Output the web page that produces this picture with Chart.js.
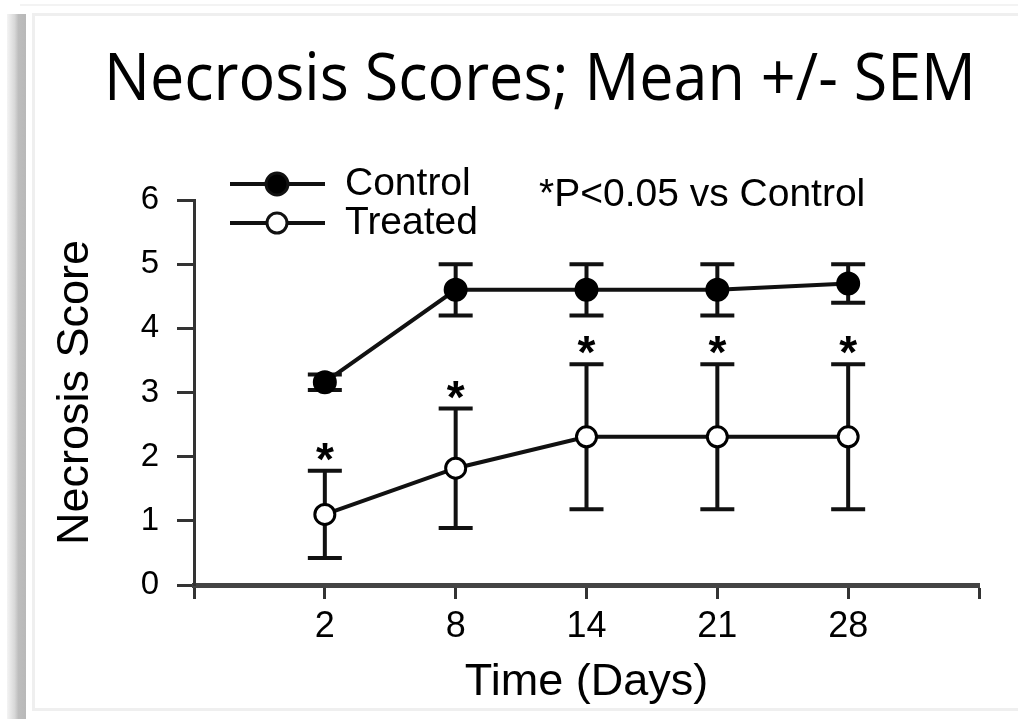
<!DOCTYPE html>
<html>
<head>
<meta charset="utf-8">
<script src="https://cdn.jsdelivr.net/npm/chart.js@4.4.1/dist/chart.umd.min.js"></script>
<style>
  html, body { margin: 0; padding: 0; background: #fff; }
  body { width: 1018px; height: 719px; position: relative; overflow: hidden; }
  .shadow { position: absolute; left: 7px; top: 14px; width: 19px; bottom: 0;
            background: linear-gradient(to right, #f4f4f4, #d8d8d8 40%, #bdbdbd 60%, #b8b8b8); }
  .topline { position: absolute; left: 20px; right: 0; top: 4px; height: 2px; background: #f3f3f3; }
  .frame { position: absolute; left: 32px; top: 13px; right: -4px; height: 698px;
           border: 3px solid #efefef; box-sizing: border-box; }
  canvas { position: absolute; left: 0; top: 0; }
</style>
</head>
<body>
<div class="shadow"></div>
<div class="topline"></div>
<div class="frame"></div>
<canvas id="necrosisChart" width="1018" height="719"></canvas>
<script>
// NECROSIS SCORES

const days = ['2', '8', '14', '21', '28'];
const controlMean = [3.16, 4.6, 4.6, 4.6, 4.7];
const controlSem = [0.12, 0.4, 0.4, 0.4, 0.3];
const treatedMean = [1.1, 1.82, 2.31, 2.31, 2.31];
const treatedSem = [0.68, 0.93, 1.13, 1.13, 1.13];
const significant = [true, true, true, true, true];

const chartTitle = 'Necrosis Scores; Mean +/- SEM';
const noteText = '*P<0.05 vs Control';
const sansFont = "'Liberation Sans', Arial, sans-serif";

const toPoints = (arr) => arr.map((v, i) => ({ x: i + 1, y: v }));

// error bars under the markers
const errorBars = {
    id: 'errorBars',
    beforeDatasetsDraw(chart) {
        const { ctx, scales: { x, y } } = chart;
        const sems = [controlSem, treatedSem];
        const means = [controlMean, treatedMean];
        ctx.save();
        ctx.strokeStyle = '#111';
        ctx.lineWidth = 4;
        for (let s = 0; s < 2; s++) {
            means[s].forEach((m, i) => {
                const px = x.getPixelForValue(i + 1);
                const top = y.getPixelForValue(m + sems[s][i]);
                const bot = y.getPixelForValue(m - sems[s][i]);
                ctx.beginPath();
                ctx.moveTo(px, top); ctx.lineTo(px, bot);
                ctx.moveTo(px - 17, top); ctx.lineTo(px + 17, top);
                ctx.moveTo(px - 17, bot); ctx.lineTo(px + 17, bot);
                ctx.stroke();
            });
        }
        ctx.restore();
    }
};

// stars, legend, note and title
const extras = {
    id: 'extras',
    afterDatasetsDraw(chart) {
        const { ctx, scales: { x, y } } = chart;
        ctx.save();
        ctx.fillStyle = '#000';

        ctx.font = 'bold 46px ' + sansFont;
        ctx.textAlign = 'center';
        ctx.textBaseline = 'alphabetic';
        treatedMean.forEach((m, i) => {
            if (!significant[i]) return;
            const px = x.getPixelForValue(i + 1);
            const top = y.getPixelForValue(m + treatedSem[i]);
            ctx.fillText('*', px, top + 4);
        });

        // legend
        const rows = [
            { label: 'Control', y: 184, fill: '#000', r: 11 },
            { label: 'Treated', y: 223, fill: '#fff', r: 10 }
        ];
        rows.forEach(row => {
            ctx.strokeStyle = '#111';
            ctx.lineWidth = 4;
            ctx.beginPath();
            ctx.moveTo(230, row.y); ctx.lineTo(325, row.y);
            ctx.stroke();
            ctx.beginPath();
            ctx.arc(277, row.y, row.r, 0, Math.PI * 2);
            ctx.fillStyle = row.fill;
            ctx.fill();
            ctx.lineWidth = 3;
            ctx.stroke();
            ctx.fillStyle = '#000';
            ctx.font = '39px ' + sansFont;
            ctx.textAlign = 'left';
            ctx.textBaseline = 'middle';
            ctx.fillText(row.label, 345, row.y);
        });

        ctx.font = '39px ' + sansFont;
        ctx.textAlign = 'left';
        ctx.textBaseline = 'middle';
        ctx.fillText(noteText, 539, 195);

        ctx.font = "66px 'Open Sans', 'Noto Sans', sans-serif";
        ctx.textBaseline = 'alphabetic';
        ctx.fillStyle = '#000';
        ctx.fillText(chartTitle, 104, 100, 872);
        ctx.restore();
    }
};

const ctx = document.getElementById('necrosisChart');

new Chart(ctx, {
    type: 'line',
    data: {
        datasets: [{
            label: 'Control',
            data: toPoints(controlMean),
            borderColor: '#111',
            borderWidth: 4,
            pointRadius: 11,
            pointBackgroundColor: '#000',
            pointBorderColor: '#000',
            pointBorderWidth: 2,
            tension: 0
        }, {
            label: 'Treated',
            data: toPoints(treatedMean),
            borderColor: '#111',
            borderWidth: 4,
            pointRadius: 10,
            pointBackgroundColor: '#fff',
            pointBorderColor: '#000',
            pointBorderWidth: 3,
            tension: 0
        }]
    },
    options: {
        responsive: false,
        animation: false,
        layout: { padding: { left: 0, top: 200, right: 39, bottom: 0 } },
        plugins: {
            legend: { display: false },
            tooltip: { enabled: false },
            title: { display: false }
        },
        scales: {
            x: {
                type: 'linear',
                min: 0,
                max: 6,
                afterFit: (scale) => { scale.height = 134; },
                ticks: {
                    stepSize: 1,
                    autoSkip: false,
                    maxRotation: 0,
                    padding: 6,
                    color: '#000',
                    font: { family: sansFont, size: 36 },
                    callback: (v) => days[v - 1] || ''
                },
                grid: { drawOnChartArea: false, tickLength: 14, tickWidth: 3, tickColor: '#333' },
                border: { color: '#444', width: 5 },
                title: {
                    display: true,
                    text: 'Time (Days)',
                    color: '#000',
                    font: { family: sansFont, size: 45 },
                    padding: { top: 0, bottom: 9 }
                }
            },
            y: {
                min: 0,
                max: 6,
                afterFit: (scale) => { scale.width = 194; },
                ticks: {
                    stepSize: 1,
                    padding: 18,
                    color: '#000',
                    font: { family: sansFont, size: 33 }
                },
                grid: { drawOnChartArea: false, tickLength: 17, tickWidth: 3, tickColor: '#333' },
                border: { color: '#333', width: 3 },
                title: {
                    display: true,
                    text: 'Necrosis Score',
                    color: '#000',
                    font: { family: sansFont, size: 45 },
                    padding: { top: 49, bottom: 0 }
                }
            }
        }
    },
    plugins: [errorBars, extras]
});
</script>
</body>
</html>
